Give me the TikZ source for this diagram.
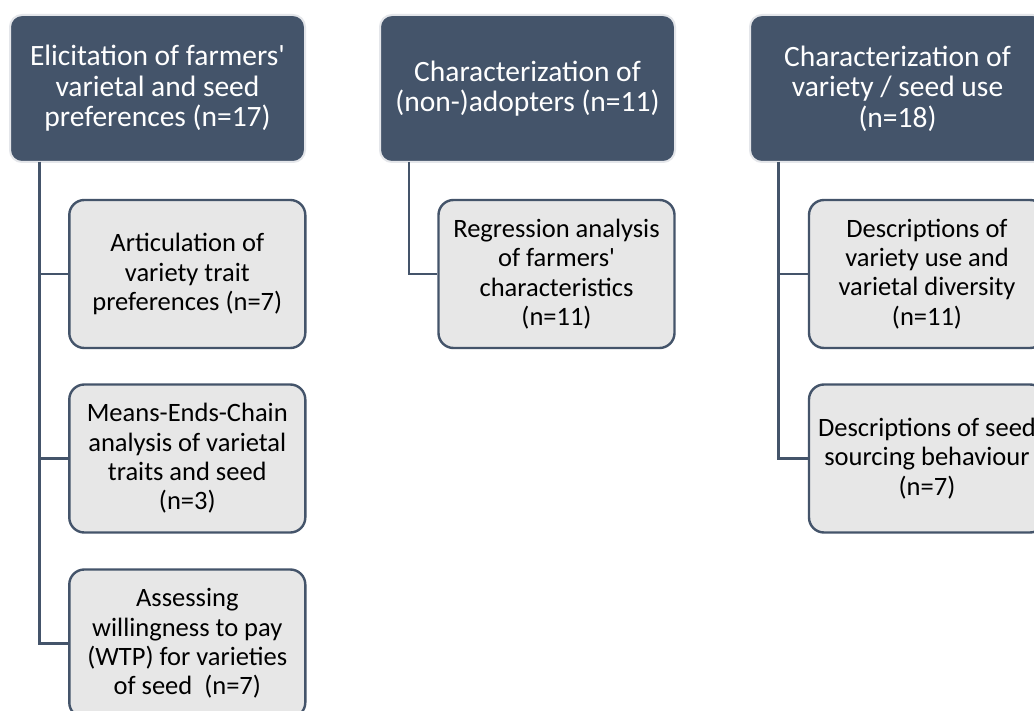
\documentclass[tikz,border=0pt]{standalone}
\usepackage{fontspec}
\setmainfont{Carlito}
\definecolor{hdr}{HTML}{44546A}
\definecolor{chl}{HTML}{E7E7E7}
\definecolor{hedge}{HTML}{E4E6EA}
\begin{document}
\begin{tikzpicture}[x=1pt,y=-1pt,
  hbox/.style={draw=hedge,line width=2pt,fill=hdr,rounded corners=12pt,minimum width=295pt,minimum height=147pt,text=white,align=center,font=\fontsize{29.5}{30.5}\selectfont,inner sep=0pt},
  cbox/.style={draw=hdr,line width=2.4pt,fill=chl,rounded corners=15pt,minimum width=236pt,minimum height=148pt,text=black,align=center,font=\fontsize{26.5}{29.3}\selectfont,inner sep=0pt},
  link/.style={draw=hdr,line width=2.7pt}]
\useasboundingbox (0,0) rectangle (1034,711);
\clip (0,0) rectangle (1034,711);
\fill[white] (0,0) rectangle (1034,711);
% left column
\node[hbox] (h1) at (157.5,88.5) {Elicitation of farmers\textquotesingle\\varietal and seed\\preferences (n=17)};
\node[cbox] (c11) at (187.3,274) {Articulation of\\variety trait\\preferences (n=7)};
\node[cbox] (c12) at (187.3,458.5) {Means-Ends-Chain\\analysis of varietal\\traits and seed\\(n=3)};
\node[cbox] (c13) at (187.3,643.5) {Assessing\\willingness to pay\\(WTP) for varieties\\of seed~~(n=7)};
\coordinate (t1) at (39.5,162);
\draw[link] (t1) |- (c11.west);
\draw[link] (t1) |- (c12.west);
\draw[link] (t1) |- (c13.west);
% middle column
\node[hbox] (h2) at (527.5,88.5) {Characterization of\\(non-)adopters (n=11)};
\node[cbox] (c21) at (556.5,274) {Regression analysis\\of farmers\textquotesingle\\characteristics\\(n=11)};
\coordinate (t2) at (409,162);
\draw[link] (t2) |- (c21.west);
% right column
\node[hbox] (h3) at (897.5,88.5) {Characterization of\\variety / seed use\\(n=18)};
\node[cbox] (c31) at (927,274) {Descriptions of\\variety use and\\varietal diversity\\(n=11)};
\node[cbox] (c32) at (927,458.5) {Descriptions of seed\\sourcing behaviour\\(n=7)};
\coordinate (t3) at (778.5,162);
\draw[link] (t3) |- (c31.west);
\draw[link] (t3) |- (c32.west);
\end{tikzpicture}
\end{document}
